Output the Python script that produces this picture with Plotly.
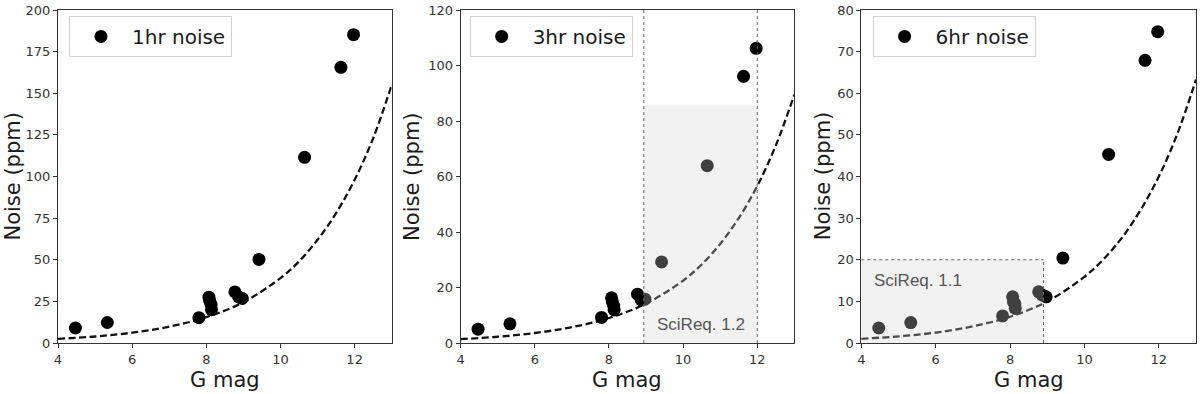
import plotly.graph_objects as go
from plotly.subplots import make_subplots

# ---- data ----
g_mag = [4.47, 5.33, 7.80, 8.07, 8.09, 8.13, 8.14, 8.77, 8.87, 8.97, 9.42, 10.65, 11.63, 11.97]
noise_1hr = [9.0, 12.3, 15.2, 27.5, 25.5, 23.0, 20.0, 30.7, 27.7, 26.8, 50.2, 111.5, 165.6, 185.2]
noise_3hr = [5.0, 6.9, 9.2, 16.3, 14.9, 13.3, 11.9, 17.6, 15.5, 15.8, 29.2, 63.9, 96.1, 106.2]
noise_6hr = [3.6, 4.9, 6.5, 11.1, 9.9, 9.4, 8.3, 12.3, 11.5, 11.1, 20.4, 45.3, 67.9, 74.8]

model_g = [4, 5, 6, 7, 8, 9, 10, 10.5, 11, 11.5, 12, 12.5, 13]
model_1hr = [2.5, 3.9, 6.2, 9.8, 15.5, 24.5, 39.0, 49.0, 62.0, 78.0, 98.0, 123.0, 155.0]
model_3hr = [1.4, 2.25, 3.6, 5.7, 9.0, 14.2, 22.5, 28.3, 35.7, 45.0, 56.6, 71.2, 89.5]
model_6hr = [1.0, 1.6, 2.5, 4.0, 6.3, 10.0, 15.9, 20.0, 25.2, 31.8, 40.0, 50.3, 63.3]

legend_names = ["1hr noise", "3hr noise", "6hr noise"]
y_ranges = [[0, 200], [0, 120], [0, 80]]
y_dticks = [25, 20, 10]
x_ticks = [4, 6, 8, 10, 12]

# SciReq regions
req12_x = [8.94, 12.0]
req12_ytop = 85.7
req11_x = [4.0, 8.9]
req11_ytop = 20.0

FONT = "DejaVu Sans"
W, H = 1200, 394
ML, MR, MT, MB = 58, 3, 7, 51
PW = W - ML - MR
PH = H - MT - MB

fig = make_subplots(rows=1, cols=3, horizontal_spacing=0.05)

domains = [[0, (392 - 58) / PW], [(461 - 58) / PW, (795 - 58) / PW], [(862 - 58) / PW, 1.0]]
series = [noise_1hr, noise_3hr, noise_6hr]
models = [model_1hr, model_3hr, model_6hr]
legend_ids = ["legend", "legend2", "legend3"]

for i in range(3):
    fig.add_trace(go.Scatter(x=model_g, y=models[i], mode="lines", line_shape="spline",
                             line=dict(color="#111", width=2.3, dash="7px,3.5px"),
                             showlegend=False, hoverinfo="skip"), row=1, col=i + 1)
    fig.add_trace(go.Scatter(x=g_mag, y=series[i], mode="markers", name=legend_names[i],
                             marker=dict(color="black", size=13),
                             legend=legend_ids[i]), row=1, col=i + 1)

axis_common = dict(showgrid=False, zeroline=False, showline=True, mirror=True,
                   linecolor="#333", linewidth=1, ticks="outside", ticklen=4,
                   tickcolor="#333", ticklabeloverflow="allow",
                   tickfont=dict(family=FONT, size=13, color="#333"))
for i in range(3):
    fig.update_xaxes(range=[4, 13], tickvals=x_ticks, domain=domains[i], row=1, col=i + 1, **axis_common)
    fig.update_yaxes(range=y_ranges[i], dtick=y_dticks[i], row=1, col=i + 1, **axis_common)

shapes = []
# SciReq 1.2 (panel 2)
shapes.append(dict(type="rect", xref="x2", yref="y2", x0=req12_x[0], x1=req12_x[1], y0=0, y1=req12_ytop,
                   fillcolor="rgba(211,211,211,0.3)", line=dict(width=0), layer="above"))
for xv in req12_x:
    shapes.append(dict(type="line", xref="x2", yref="y2 domain", x0=xv, x1=xv, y0=0, y1=1,
                       line=dict(color="#666", width=1, dash="dot"), layer="above"))
# SciReq 1.1 (panel 3)
shapes.append(dict(type="rect", xref="x3", yref="y3", x0=req11_x[0], x1=req11_x[1], y0=0, y1=req11_ytop,
                   fillcolor="rgba(211,211,211,0.3)", line=dict(width=0), layer="above"))
shapes.append(dict(type="line", xref="x3", yref="y3", x0=req11_x[0], x1=req11_x[1], y0=req11_ytop, y1=req11_ytop,
                   line=dict(color="#666", width=1, dash="dot"), layer="above"))
shapes.append(dict(type="line", xref="x3", yref="y3", x0=req11_x[1], x1=req11_x[1], y0=0, y1=req11_ytop,
                   line=dict(color="#666", width=1, dash="dot"), layer="above"))

annotations = [
    dict(text="SciReq. 1.2", xref="x2", yref="y2", x=10.47, y=6.5, showarrow=False,
         font=dict(family="Liberation Sans", size=17, color="#555")),
    dict(text="SciReq. 1.1", xref="x3", yref="y3", x=4.3, y=15, xanchor="left", showarrow=False,
         font=dict(family="Liberation Sans", size=17, color="#555")),
]
ytitle_px = [12, 411.7, 823.3]
for i in range(3):
    annotations.append(dict(text="Noise (ppm)", xref="paper", yref="paper",
                            x=(ytitle_px[i] - ML) / PW, y=0.5, textangle=-90, showarrow=False,
                            xanchor="center", yanchor="middle",
                            font=dict(family=FONT, size=21, color="#1a1a1a")))
    annotations.append(dict(text="G mag", xref="paper", yref="paper",
                            x=(domains[i][0] + domains[i][1]) / 2, y=(343 - 380) / PH, showarrow=False,
                            xanchor="center", yanchor="middle",
                            font=dict(family=FONT, size=21, color="#1a1a1a")))

legend_style = dict(bgcolor="rgba(255,255,255,0.8)", bordercolor="#d0d0d0", borderwidth=1,
                    font=dict(family=FONT, size=20, color="#1a1a1a"), itemwidth=52,
                    xanchor="left", yanchor="top")
legend_left_px = [69, 470, 873.3]
legend_top_px = 13
fig.update_layout(
    width=W, height=H,
    margin=dict(l=ML, r=MR, t=MT, b=MB),
    plot_bgcolor="white", paper_bgcolor="white",
    shapes=shapes, annotations=annotations,
    legend=dict(x=(legend_left_px[0] - ML) / PW, y=(343 - legend_top_px) / PH, **legend_style),
    legend2=dict(x=(legend_left_px[1] - ML) / PW, y=(343 - legend_top_px) / PH, **legend_style),
    legend3=dict(x=(legend_left_px[2] - ML) / PW, y=(343 - legend_top_px) / PH, **legend_style),
)

fig.write_html("out.html", config={"displayModeBar": False},
               post_script="document.body.style.margin='0px';document.body.style.overflow='hidden';")
